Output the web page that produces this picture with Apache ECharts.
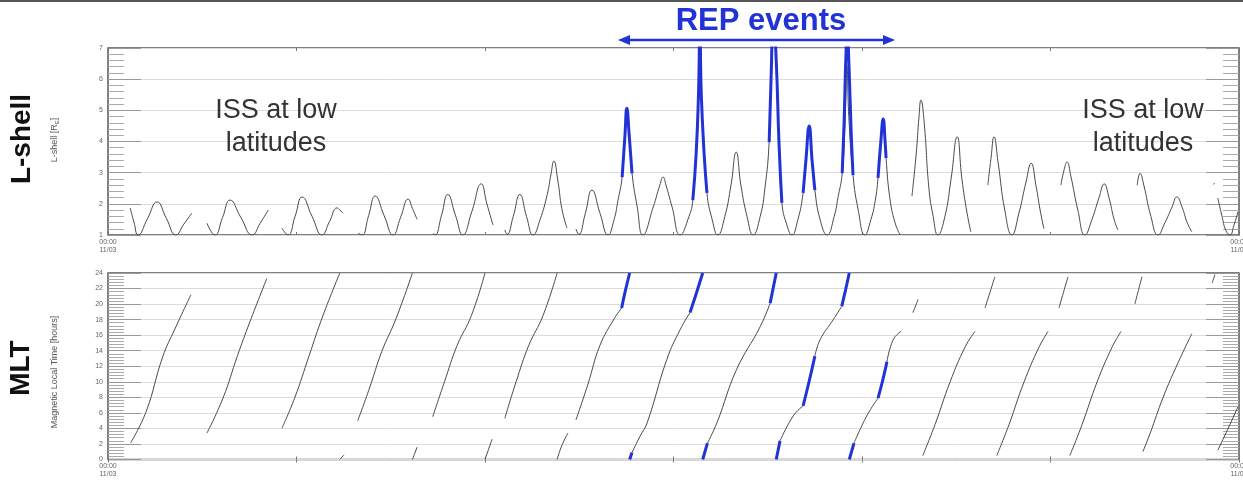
<!DOCTYPE html>
<html>
<head>
<meta charset="utf-8">
<script src="https://cdn.jsdelivr.net/npm/echarts@6/dist/echarts.min.js"></script>
<style>
html,body{margin:0;padding:0;background:#fff;}
#c{width:1243px;height:484px;}
</style>
</head>
<body>
<div id="c"></div>
<script>
// ---------- data (x = hours since 00:00 11/03) ----------
const timeLabels = ['00:00\n11/03', '00:00\n11/04'];
const panelTitles = ['L-shell', 'MLT'];

// L-shell, black trace (segments separated by data gaps)
const lShellSeg1 = [[0.47,1.87],[0.55,1.42],[0.64,1.0],[0.84,1.53],[1.04,2.06],[1.24,1.53],[1.44,1.0],[1.61,1.35],[1.78,1.7]];
const lShellSeg2 = [[2.10,1.38],[2.27,1.0],[2.43,1.56],[2.59,2.12],[2.82,1.56],[3.06,1.0],[3.23,1.38],[3.40,1.8]];
const lShellSeg3 = [[3.69,1.22],[3.82,1.0],[3.97,1.6],[4.12,2.22],[4.33,1.6],[4.54,1.0],[4.70,1.43],[4.86,1.87],[4.92,1.8],[4.99,1.7]];
const lShellSeg4 = [[5.31,1.06],[5.39,1.0],[5.53,1.62],[5.67,2.25],[5.86,1.62],[6.05,1.0],[6.21,1.57],[6.37,2.15],[6.46,1.85],[6.56,1.5]];
const lShellSeg5 = [[6.90,1.06],[6.94,1.0],[7.08,1.65],[7.21,2.3],[7.37,1.65],[7.53,1.0],[7.72,1.75],[7.92,2.64],[8.04,2.0],[8.17,1.32]];
const lShellSeg6 = [[8.42,1.16],[8.47,1.02],[8.60,1.6],[8.74,2.3],[8.88,1.6],[9.02,1.0],[9.17,1.5],[9.32,2.3],[9.40,2.95],[9.46,3.37],[9.55,2.7],[9.63,1.85],[9.74,1.22]];
const lShellSeg7 = [[9.93,1.19],[9.99,1.02],[10.13,1.7],[10.27,2.44],[10.44,1.7],[10.61,1.0],[10.74,1.5],[10.82,2.1],[10.91,2.86],[10.97,4.2],[11.01,5.07],[11.06,4.2],[11.12,2.98],[11.23,1.9],[11.35,1.0],[11.57,1.9],[11.71,2.6],[11.78,2.86],[11.84,2.6],[11.97,1.9],[12.14,1.0],[12.33,1.6],[12.41,2.12],[12.50,4.0],[12.56,5.75],[12.63,4.4],[12.71,2.35],[12.82,1.5],[12.94,1.0],[13.09,1.6],[13.22,2.6],[13.33,3.66],[13.43,2.6],[13.56,1.6],[13.69,1.0],[13.84,1.6],[13.94,2.5],[14.03,3.98],[14.07,6.0],[14.12,8.0],[14.18,6.6],[14.24,3.9],[14.30,2.03],[14.41,1.3],[14.51,1.0],[14.64,1.5],[14.75,2.35],[14.81,3.4],[14.88,4.5],[14.94,3.4],[15.00,2.44],[15.11,1.5],[15.26,1.0],[15.41,1.6],[15.49,2.2],[15.58,2.98],[15.64,4.6],[15.68,6.45],[15.72,4.8],[15.81,2.92],[15.92,1.8],[16.06,1.0],[16.19,1.5],[16.28,2.1],[16.34,2.83],[16.40,4.0],[16.45,4.72],[16.49,4.0],[16.51,3.47],[16.59,2.2],[16.70,1.4],[16.81,1.0]];
const lShellSeg8 = [[17.06,2.25],[17.15,3.6],[17.21,4.8],[17.25,5.33],[17.32,4.6],[17.42,2.5],[17.51,1.6],[17.61,1.0],[17.76,1.6],[17.89,2.8],[18.02,4.15],[18.12,2.8],[18.23,1.7],[18.31,1.1]];
const lShellSeg9 = [[18.67,2.6],[18.74,3.5],[18.80,4.15],[18.89,3.3],[19.03,1.8],[19.18,1.0],[19.33,1.7],[19.48,2.7],[19.59,3.3],[19.69,2.6],[19.78,1.8],[19.86,1.2]];
const lShellSeg10 = [[20.22,2.6],[20.29,3.1],[20.35,3.34],[20.43,2.9],[20.58,1.8],[20.73,1.0],[20.88,1.5],[21.03,2.2],[21.14,2.64],[21.24,2.2],[21.35,1.5],[21.43,1.16]];
const lShellSeg11 = [[21.84,2.6],[21.90,2.98],[21.98,2.6],[22.13,1.6],[22.28,1.0],[22.43,1.4],[22.58,1.9],[22.68,2.22],[22.79,1.9],[22.90,1.4],[23.00,1.1]];
const lShellSeg12 = [[23.46,2.62],[23.48,2.67]];
const lShellSeg13 = [[23.55,2.19],[23.64,1.6],[23.72,1.15],[23.81,1.0],[23.89,1.3],[23.98,1.75]];

// L-shell, REP event intervals (blue)
const lShellRep1 = [[10.91,2.86],[10.97,4.2],[11.01,5.07],[11.06,4.2],[11.12,2.98]];
const lShellRep2 = [[12.41,2.12],[12.48,3.6],[12.53,5.5],[12.56,7.5],[12.59,5.5],[12.65,3.6],[12.71,2.35]];
const lShellRep3 = [[14.03,3.98],[14.07,6.0],[14.12,8.0],[14.18,6.6],[14.24,3.9],[14.30,2.03]];
const lShellRep4 = [[14.75,2.35],[14.81,3.4],[14.88,4.5],[14.94,3.4],[15.00,2.44]];
const lShellRep5 = [[15.58,2.98],[15.62,4.6],[15.66,6.8],[15.69,7.5],[15.72,6.6],[15.77,4.3],[15.81,2.92]];
const lShellRep6 = [[16.34,2.83],[16.40,4.0],[16.45,4.72],[16.49,4.0],[16.51,3.47]];

// MLT, black trace
const mltBlack = [
  [[0.48,2.13],[0.81,6.18],[1.16,13.2],[1.42,16.8],[1.76,21.2]],
  [[2.10,3.4],[2.44,7.9],[2.75,13.4],[3.01,17.7],[3.37,23.3]],
  [[3.69,4.0],[3.96,7.9],[4.27,13.4],[4.56,18.5],[4.92,24]],
  [[4.92,0],[5.01,0.6]],
  [[5.30,5.0],[5.55,9.2],[5.81,13.9],[6.11,18.1],[6.46,24]],
  [[6.46,0],[6.56,1.6]],
  [[6.89,5.5],[7.14,10.0],[7.41,14.7],[7.71,18.5],[8.00,24]],
  [[8.00,0],[8.15,2.6]],
  [[8.42,5.3],[8.66,10.0],[8.93,14.7],[9.23,18.5],[9.53,24]],
  [[9.53,0],[9.63,1.8],[9.76,3.4]],
  [[9.93,5.1],[10.18,9.6],[10.44,14.7],[10.74,18.1],[10.90,19.5]],
  [[11.12,0.9],[11.29,3.0],[11.44,4.7],[11.86,12.9],[12.14,16.7],[12.35,18.9]],
  [[12.72,2.1],[12.92,4.7],[13.34,11.6],[13.84,17.1],[14.05,20.1]],
  [[14.26,2.4],[14.54,5.6],[14.75,6.9]],
  [[15.00,13.3],[15.11,15.4],[15.39,18.0],[15.57,19.7]],
  [[15.83,2.1],[16.10,5.6],[16.34,7.9]],
  [[16.53,12.6],[16.66,15.4],[16.83,16.5]],
  [[17.08,18.9],[17.19,20.6]],
  [[17.29,0.5],[17.55,4.5],[17.87,10],[18.19,14.5],[18.40,16.5]],
  [[18.61,19.5],[18.82,23.5]],
  [[18.86,0.5],[19.12,4.5],[19.44,10],[19.76,14.5],[19.95,16.5]],
  [[20.18,19.5],[20.37,23.5]],
  [[20.41,0.5],[20.67,4.5],[20.99,10],[21.31,14.5],[21.50,16.5]],
  [[21.79,20],[21.94,23.5]],
  [[21.96,1],[22.11,3.3],[22.39,8],[22.71,12.5],[23.00,16.2]],
  [[23.43,22.7],[23.49,23.8]],
  [[23.55,1.2],[23.77,4.0],[23.98,6.8]]
];
// MLT, REP event intervals (blue)
const mltRep = [
  [[10.90,19.5],[10.97,21.5],[11.07,24]],
  [[11.07,0],[11.12,0.9]],
  [[12.35,18.9],[12.48,21.3],[12.62,24]],
  [[12.62,0],[12.72,2.1]],
  [[14.05,20.1],[14.18,24]],
  [[14.18,0],[14.26,2.4]],
  [[14.75,6.9],[14.88,10.1],[15.00,13.3]],
  [[15.57,19.7],[15.65,21.8],[15.73,24]],
  [[15.73,0],[15.83,2.1]],
  [[16.34,7.9],[16.44,10.2],[16.53,12.6]]
];

const lShellBlack = [lShellSeg1,lShellSeg2,lShellSeg3,lShellSeg4,lShellSeg5,lShellSeg6,lShellSeg7,lShellSeg8,lShellSeg9,lShellSeg10,lShellSeg11,lShellSeg12,lShellSeg13];
const lShellRep = [lShellRep1,lShellRep2,lShellRep3,lShellRep4,lShellRep5,lShellRep6];

// ---------- chart ----------
const FONT = '"Liberation Sans", Arial, Helvetica, sans-serif';
const BLUE = '#2233d6';
const chart = echarts.init(document.getElementById('c'), null, {renderer: 'canvas'});

function xAx(gridIndex, pos) {
  return {
    type: 'value', gridIndex, position: pos, min: 0, max: 24, interval: 4,
    axisLine: {show: false},
    axisTick: {show: true, inside: true, length: 3, lineStyle: {color: '#777', width: 1}},
    splitLine: {show: false},
    axisLabel: pos === 'bottom' ? {
      show: true, fontSize: 7, color: '#666', fontFamily: FONT, margin: 3, lineHeight: 8,
      formatter: v => v === 0 ? timeLabels[0] : (v === 24 ? timeLabels[1] : '')
    } : {show: false}
  };
}
function yAx(gridIndex, pos, min, max, interval) {
  const left = pos === 'left';
  return {
    type: 'value', gridIndex, position: pos, offset: 0, min, max, interval,
    axisLine: {show: false, onZero: false},
    axisTick: {show: true, inside: true, length: 33, lineStyle: {color: '#999', width: 1}},
    minorTick: {show: true, splitNumber: 5, length: 16, lineStyle: {color: '#aaa', width: 1}},
    splitLine: {show: left, lineStyle: {color: '#dcdcdc', width: 1}},
    minorSplitLine: {show: false},
    axisLabel: {show: left, inside: false, fontSize: 7, color: '#666', fontFamily: FONT, margin: 5}
  };
}
function seg(data, xi, yi, color, width, z, smooth) {
  return {
    type: 'line', data, xAxisIndex: xi, yAxisIndex: yi, symbol: 'none', showSymbol: false,
    smooth, lineStyle: {color, width}, z, silent: true, animation: false
  };
}

const series = [];
lShellBlack.forEach(d => series.push(seg(d, 0, 0, '#4a4a4a', 1, 3, 0.5)));
lShellRep.forEach(d => series.push(seg(d, 0, 0, BLUE, 3, 5, 0.5)));
mltBlack.forEach(d => series.push(seg(d, 2, 2, '#4a4a4a', 1, 3, 0.45)));
mltRep.forEach(d => series.push(seg(d, 2, 2, BLUE, 3, 5, 0.45)));

chart.setOption({
  animation: false,
  backgroundColor: '#fff',
  grid: [
    {left: 108, top: 48, width: 1131, height: 187, show: true, borderColor: '#555', borderWidth: 1.5, containLabel: false, outerBoundsMode: 'none'},
    {left: 108, top: 273, width: 1131, height: 186.5, show: true, borderColor: '#555', borderWidth: 1.5, containLabel: false, outerBoundsMode: 'none'}
  ],
  xAxis: [xAx(0, 'bottom'), xAx(0, 'top'), xAx(1, 'bottom'), xAx(1, 'top')],
  yAxis: [yAx(0, 'left', 1, 7, 1), yAx(0, 'right', 1, 7, 1), yAx(1, 'left', 0, 24, 2), yAx(1, 'right', 0, 24, 2)],
  series,
  graphic: [
    {type: 'line', shape: {x1: 0, y1: 1, x2: 1243, y2: 1}, style: {stroke: '#555', lineWidth: 2}, z: 10},
    {type: 'text', x: 761, y: 21, style: {text: 'REP events', font: 'bold 31px ' + FONT, fill: BLUE, textAlign: 'center', textVerticalAlign: 'middle'}, z: 10},
    {type: 'line', shape: {x1: 626, y1: 40, x2: 887, y2: 40}, style: {stroke: BLUE, lineWidth: 2.5}, z: 10},
    {type: 'polygon', shape: {points: [[618, 40], [630, 35], [630, 45]]}, style: {fill: BLUE}, z: 10},
    {type: 'polygon', shape: {points: [[895, 40], [883, 35], [883, 45]]}, style: {fill: BLUE}, z: 10},
    {type: 'text', x: 22, y: 139, rotation: Math.PI / 2, style: {text: panelTitles[0], font: 'bold 28px ' + FONT, fill: '#111', textAlign: 'center', textVerticalAlign: 'middle'}, z: 10},
    {type: 'text', x: 21, y: 368, rotation: Math.PI / 2, style: {text: panelTitles[1], font: 'bold 28px ' + FONT, fill: '#111', textAlign: 'center', textVerticalAlign: 'middle'}, z: 10},
    {type: 'text', x: 55, y: 140, rotation: Math.PI / 2, style: {
      text: '{a|L-shell [R}{s|E}{a|]}', textAlign: 'center', textVerticalAlign: 'middle',
      rich: {a: {fontSize: 9, fontFamily: FONT, fill: '#555', color: '#555'}, s: {fontSize: 6, fontFamily: FONT, fill: '#555', color: '#555', padding: [5, 0, 0, 0]}}
    }, z: 10},
    {type: 'text', x: 55, y: 372, rotation: Math.PI / 2, style: {text: 'Magnetic Local Time [hours]', font: '9px ' + FONT, fill: '#555', textAlign: 'center', textVerticalAlign: 'middle'}, z: 10},
    {type: 'text', x: 276, y: 127, style: {text: 'ISS at low\nlatitudes', font: '27px ' + FONT, fill: '#333', textAlign: 'center', textVerticalAlign: 'middle', lineHeight: 33}, z: 10},
    {type: 'text', x: 1143, y: 127, style: {text: 'ISS at low\nlatitudes', font: '27px ' + FONT, fill: '#333', textAlign: 'center', textVerticalAlign: 'middle', lineHeight: 33}, z: 10}
  ]
});
</script>
</body>
</html>
